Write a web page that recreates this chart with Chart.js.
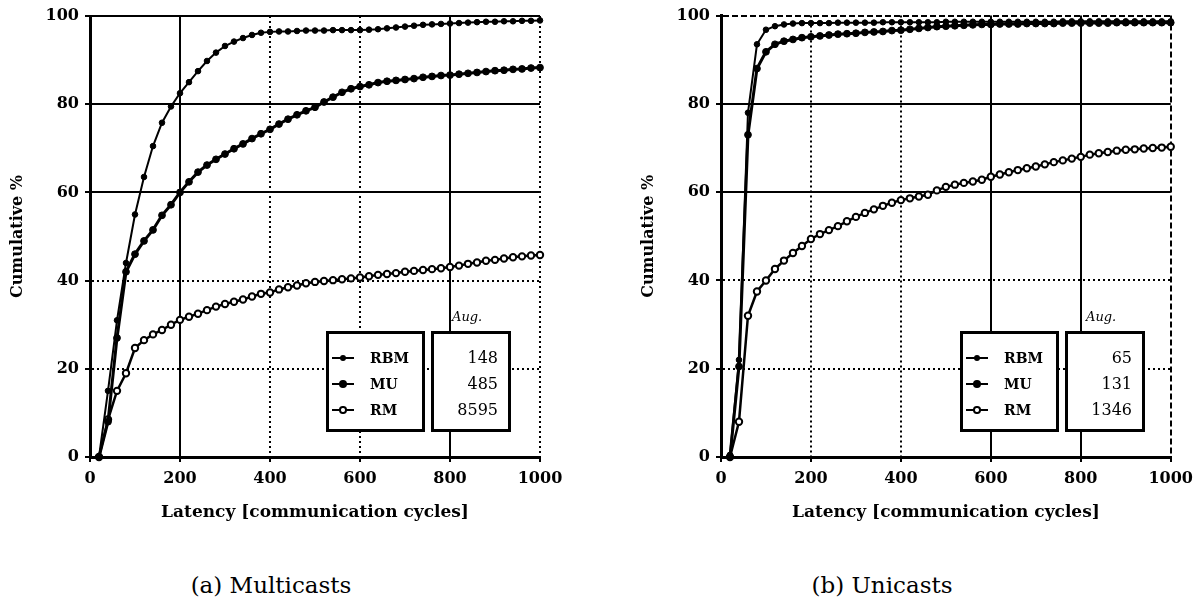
<!DOCTYPE html>
<html>
<head>
<meta charset="utf-8">
<script src="https://cdn.jsdelivr.net/npm/chart.js@4/dist/chart.umd.min.js"></script>
<style>
  html, body { margin: 0; padding: 0; background: #fff; }
  body { width: 1200px; height: 599px; position: relative; overflow: hidden; font-family: 'DejaVu Serif', serif; color: #000; }
  canvas { position: absolute; top: 0; }
  #chart-left { left: 0; }
  #chart-right { left: 631px; }
  .caption { position: absolute; top: 570px; font-size: 23px; line-height: 30px; font-family: 'DejaVu Serif', serif; transform: translateX(-50%); white-space: nowrap; }
  .lbox { position: absolute; border: 3px solid #000; background: #fff; box-sizing: border-box; }
  .row { position: absolute; height: 20px; line-height: 20px; font-size: 14px; white-space: nowrap; }
  .sample { position: absolute; top: 9px; height: 2px; background: #000; }
  .dot { position: absolute; border-radius: 50%; }
  .avg { position: absolute; font-style: italic; font-size: 13px; }
</style>
</head>
<body>
<canvas id="chart-left" width="600" height="540"></canvas>
<canvas id="chart-right" width="569" height="540"></canvas>
<div class="caption" style="left:271px">(a) Multicasts</div>
<div class="caption" style="left:882px">(b) Unicasts</div>
<div id="legend-left"></div>
<div id="legend-right"></div>
<script>
// ===== Data =====
const latency = [20, 40, 60, 80, 100, 120, 140, 160, 180, 200,
  220, 240, 260, 280, 300, 320, 340, 360, 380, 400,
  420, 440, 460, 480, 500, 520, 540, 560, 580, 600,
  620, 640, 660, 680, 700, 720, 740, 760, 780, 800,
  820, 840, 860, 880, 900, 920, 940, 960, 980, 1000];

const seriesNames = ['RBM', 'MU', 'RM'];
const yTicks = [0, 20, 40, 60, 80, 100];
const xTicks = [0, 200, 400, 600, 800, 1000];

// (a) Multicasts
const multiRBM = [0, 15, 31, 44, 55, 63.5, 70.5, 75.8, 79.5, 82.5,
  85, 87.5, 89.8, 91.7, 93.2, 94.2, 95, 95.7, 96.2, 96.4,
  96.5, 96.5, 96.6, 96.7, 96.7, 96.7, 96.8, 96.8, 96.8, 96.8,
  96.9, 97, 97.2, 97.4, 97.6, 97.8, 98, 98.1, 98.2, 98.3,
  98.4, 98.5, 98.6, 98.7, 98.7, 98.8, 98.8, 98.9, 98.9, 99];
const multiMU = [0, 8, 27, 42, 46, 49, 51.5, 54.8, 57.2, 60,
  62.4, 64.6, 66.2, 67.5, 68.7, 69.9, 71, 72.2, 73.3, 74.3,
  75.5, 76.6, 77.6, 78.5, 79.3, 80.5, 81.6, 82.7, 83.5, 84,
  84.4, 84.9, 85.2, 85.4, 85.6, 85.8, 86.1, 86.3, 86.5, 86.6,
  86.8, 87, 87.2, 87.4, 87.6, 87.7, 87.9, 88, 88.2, 88.3];
const multiRM = [0, 8.5, 15, 19, 24.7, 26.5, 27.8, 28.8, 30, 31.1,
  31.8, 32.5, 33.3, 34.1, 34.7, 35.2, 35.7, 36.4, 37, 37.3,
  38, 38.5, 38.9, 39.4, 39.7, 39.9, 40.1, 40.3, 40.5, 40.7,
  41, 41.3, 41.5, 41.7, 42, 42.2, 42.4, 42.6, 42.8, 43.1,
  43.4, 43.8, 44.1, 44.5, 44.7, 45, 45.3, 45.5, 45.7, 45.8];
const multiAvg = ['148', '485', '8595'];

// (b) Unicasts
const uniRBM = [0.5, 22, 78, 93.5, 96.8, 97.6, 98, 98.2, 98.3, 98.3,
  98.3, 98.3, 98.4, 98.4, 98.4, 98.4, 98.4, 98.5, 98.5, 98.5,
  98.5, 98.5, 98.5, 98.5, 98.6, 98.6, 98.6, 98.6, 98.6, 98.6,
  98.6, 98.6, 98.6, 98.6, 98.6, 98.6, 98.6, 98.7, 98.7, 98.7,
  98.7, 98.7, 98.7, 98.7, 98.7, 98.7, 98.7, 98.7, 98.7, 98.7];
const uniMU = [0, 20.5, 73, 88, 91.8, 93.5, 94.2, 94.6, 95, 95.2,
  95.4, 95.6, 95.8, 95.9, 96, 96.2, 96.3, 96.4, 96.6, 96.7,
  96.9, 97.1, 97.3, 97.5, 97.6, 97.7, 97.8, 97.9, 98, 98,
  98.1, 98.1, 98.1, 98.2, 98.2, 98.2, 98.2, 98.3, 98.3, 98.3,
  98.3, 98.3, 98.3, 98.4, 98.4, 98.4, 98.4, 98.4, 98.4, 98.4];
const uniRM = [0, 8, 32, 37.5, 40, 42.6, 44.5, 46.2, 47.8, 49.4,
  50.5, 51.4, 52.3, 53.4, 54.4, 55.3, 56.1, 56.9, 57.6, 58.2,
  58.6, 59, 59.4, 60.4, 61.2, 61.7, 62.1, 62.4, 62.8, 63.5,
  64, 64.5, 65, 65.4, 65.8, 66.3, 66.8, 67.2, 67.6, 68,
  68.5, 68.8, 69.1, 69.4, 69.6, 69.7, 69.9, 70, 70.1, 70.3];
const uniAvg = ['65', '131', '1346'];

// ===== Styles =====
const DOTTED = [2, 3];
const DASHED = [6, 3];
const SERIES_STYLE = [
  { width: 2, radius: 2.8, fill: '#000' },   // RBM
  { width: 3, radius: 3.4, fill: '#000' },   // MU
  { width: 2.5, radius: 3.2, fill: '#fff' }  // RM
];

Chart.defaults.font.family = "'DejaVu Serif', serif";
Chart.defaults.color = '#000';

function buildDatasets(values) {
  return values.map((vals, i) => ({
    label: seriesNames[i],
    data: latency.map((x, k) => ({ x, y: vals[k] })),
    borderColor: '#000',
    borderWidth: SERIES_STYLE[i].width,
    pointRadius: SERIES_STYLE[i].radius,
    pointBackgroundColor: SERIES_STYLE[i].fill,
    pointBorderColor: '#000',
    pointBorderWidth: i === 2 ? 2 : 1,
    tension: 0,
    clip: false
  }));
}

// gridStyle: { x: {200: [], ...}, y: {...} } -> dash per tick, dotted otherwise
function makeChart(id, values, gridStyle, rightPad, topPad) {
  const dashFor = axis => ctx => {
    if (!ctx.tick) return [];
    const d = gridStyle[axis][ctx.tick.value];
    return d === undefined ? DOTTED : d;
  };
  const tickFont = { size: 16, weight: 'bold' };
  return new Chart(document.getElementById(id).getContext('2d'), {
    type: 'line',
    data: { datasets: buildDatasets(values) },
    options: {
      responsive: false, animation: false, devicePixelRatio: 1,
      layout: { padding: { left: 0, right: rightPad, top: topPad, bottom: 0 } },
      plugins: { legend: { display: false }, tooltip: { enabled: false } },
      scales: {
        x: {
          type: 'linear', min: 0, max: 1000,
          afterBuildTicks: s => { s.ticks = xTicks.map(v => ({ value: v })); },
          afterFit: s => { s.height = 83; },
          ticks: { font: tickFont, padding: 7, maxRotation: 0, callback: v => String(v) },
          grid: { color: '#000', lineWidth: 2, tickLength: 5 },
          border: { display: true, color: '#000', width: 3, dash: dashFor('x') },
          title: { display: true, text: 'Latency [communication cycles]', font: { size: 17, weight: 'bold' }, padding: { top: 0, bottom: 17 } }
        },
        y: {
          min: 0, max: 100,
          afterBuildTicks: s => { s.ticks = yTicks.map(v => ({ value: v })); },
          afterFit: s => { s.width = 90; },
          ticks: { font: tickFont, padding: 6, callback: v => String(v) },
          grid: { color: '#000', lineWidth: 2, tickLength: 5 },
          border: { display: true, color: '#000', width: 3, dash: dashFor('y') },
          title: { display: true, text: 'Cumulative %', font: { size: 16, weight: 'bold' }, padding: { top: 8, bottom: 0 } }
        }
      }
    }
  });
}

makeChart('chart-left', [multiRBM, multiMU, multiRM],
  { x: { 200: [], 800: [] }, y: { 60: [], 80: [], 100: [] } }, 60, 16);
makeChart('chart-right', [uniRBM, uniMU, uniRM],
  { x: { 600: [], 800: [], 1000: DASHED }, y: { 60: [], 80: [], 100: DASHED } }, 29, 14);

// ===== Legend boxes =====
function buildLegend(containerId, left, avgVals) {
  const el = document.getElementById(containerId);
  const top = 331, h = 101;
  let html = `<div class="avg" style="left:${left + 126}px;top:${top - 22}px">Aug.</div>`;
  html += `<div class="lbox" style="left:${left}px;top:${top}px;width:99px;height:${h}px"></div>`;
  html += `<div class="lbox" style="left:${left + 105}px;top:${top}px;width:80px;height:${h}px"></div>`;
  seriesNames.forEach((name, i) => {
    const y = top + 17 + i * 26;
    const st = SERIES_STYLE[i];
    const r = st.radius + 0.5;
    html += `<div class="sample" style="left:${left + 6}px;top:${y + 9}px;width:22px"></div>`;
    html += `<div class="dot" style="left:${left + 17 - r}px;top:${y + 10 - r}px;width:${2 * r - (i === 2 ? 4 : 0)}px;height:${2 * r - (i === 2 ? 4 : 0)}px;background:${st.fill};border:${i === 2 ? 2 : 0}px solid #000"></div>`;
    html += `<div class="row" style="left:${left + 44}px;top:${y}px;font-weight:bold">${name}</div>`;
    html += `<div class="row" style="left:${left + 105}px;top:${y}px;width:67px;text-align:right;font-size:16px">${avgVals[i]}</div>`;
  });
  el.innerHTML = html;
}
buildLegend('legend-left', 326, multiAvg);
buildLegend('legend-right', 960, uniAvg);
</script>
</body>
</html>
